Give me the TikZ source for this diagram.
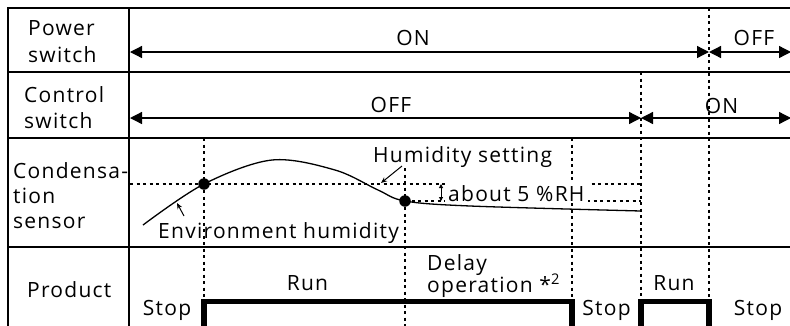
\documentclass[tikz,border=0pt]{standalone}
\usepackage{fontspec}
\setmainfont{Open Sans}[LetterSpace=6]
\usetikzlibrary{arrows.meta}
\begin{document}
\begin{tikzpicture}[x=1pt,y=-1pt,
  frame/.style={line width=1.3pt},
  vdot/.style={line width=1.2pt, dash pattern=on 3pt off 3.5pt},
  dotbox/.style={line width=1.1pt, dash pattern=on 3pt off 3.5pt},
  txt/.style={inner sep=0pt, font=\fontsize{21}{26}\selectfont},
  lab/.style={txt, anchor=base west},
  ctr/.style={txt, anchor=base},
  span/.style={line width=1.3pt, {Triangle[length=12pt,width=12pt]}-{Triangle[length=12pt,width=12pt]}},
  pulse/.style={line width=5.5pt, line cap=butt, line join=miter},
  dotm/.style={circle, fill=black, inner sep=0pt, minimum size=11.5pt},
  pointer/.style={line width=1pt, -{Stealth[length=6pt,width=5pt]}},
  curve/.style={line width=1.3pt},
]
\useasboundingbox (0,0) rectangle (790,325);

% table frame
\draw[frame] (8,330) -- (8,8) -- (790,8);
\draw[frame] (129,8) -- (129,330);
\draw[frame] (8,72) -- (790,72);
\draw[frame] (8,138) -- (790,138);
\draw[frame] (8,247) -- (790,247);

% row labels
\node[lab] (l1a) at (28,35) {Power};
\node[lab] (l1b) at (28,62) {switch};
\node[lab] (l2a) at (24,102) {Control};
\node[lab] (l2b) at (24,128) {switch};
\node[lab] (l3a) at (13,178) {Condensa-};
\node[lab] (l3b) at (13,203) {tion};
\node[lab] (l3c) at (13,228) {sensor};
\node[lab] (l4a) at (27,297) {Product};

% vertical dotted time marks
\coordinate (t1a) at (204,138); \coordinate (t1b) at (204,301);
\coordinate (t2a) at (405,168); \coordinate (t2b) at (405,330);
\coordinate (t3a) at (572,138); \coordinate (t3b) at (572,301);
\coordinate (t4a) at (641,72);  \coordinate (t4b) at (641,301);
\coordinate (t5a) at (709,8);   \coordinate (t5b) at (709,301);
\draw[vdot] (t1a) -- (t1b);
\draw[vdot] (t2a) -- (t2b);
\draw[vdot] (t3a) -- (t3b);
\draw[vdot] (t4a) -- (t4b);
\draw[vdot] (t5a) -- (t5b);

% power switch
\coordinate (p0) at (130,52); \coordinate (p1) at (709,52); \coordinate (p2) at (791,52);
\draw[span] (p0) -- (p1);
\draw[span] (p1) -- (p2);
\node[ctr] (pon) at (413,45) {ON};
\node[ctr] (poff) at (754,45) {OFF};

% control switch
\coordinate (c0) at (130,118); \coordinate (c1) at (641,118); \coordinate (c2) at (791,118);
\draw[span] (c0) -- (c1);
\draw[span] (c1) -- (c2);
\node[ctr] (coff) at (391,112) {OFF};
\node[ctr] (con) at (721.5,113) {ON};

% humidity setting level and 5 %RH band
\coordinate (h0) at (130,184); \coordinate (h1) at (641,184);
\coordinate (h2) at (405,201); \coordinate (h3) at (641,201);
\draw[dotbox] (h0) -- (h1);
\draw[dotbox] (h2) -- (h3);
\node[lab, fill=white, inner xsep=3pt, text height=18.5pt, text depth=2pt] (rh) at (445,201) {about 5 \%RH};
\coordinate (r0) at (441,184); \coordinate (r1) at (441,201);
\draw[line width=1pt, {Triangle[length=4pt,width=4pt]}-{Triangle[length=4pt,width=4pt]}] (r0) -- (r1);

% environment humidity curve
\draw[curve] plot[smooth, tension=0.55] coordinates {(143,225) (204,184) (272,160) (335,170) (378,190) (405,201) (470,206) (641,211)};
\node[dotm] (d1) at (204,184) {};
\node[dotm] (d2) at (405,201) {};

\node[lab] (env) at (158,238) {Environment humidity};
\coordinate (ea) at (184,216); \coordinate (eb) at (177,203);
\draw[pointer] (ea) -- (eb);

\node[lab] (hset) at (373,162) {Humidity setting};
\coordinate (ha) at (402,166); \coordinate (hb) at (381,183);
\draw[pointer] (ha) -- (hb);

% product
\draw[pulse] (204,330) -- (204,301.5) -- (572,301.5) -- (572,330);
\draw[pulse] (641,330) -- (641,301.5) -- (709,301.5) -- (709,330);
\node[ctr] (s1) at (167,315) {Stop};
\node[ctr] (u1) at (307.5,290) {Run};
\node[lab] (dl1) at (427,270) {Delay};
\node[lab] (dl2) at (427,292) {operation *\textsuperscript{2}};
\node[ctr] (s2) at (606.5,315) {Stop};
\node[ctr] (u2) at (674,290) {Run};
\node[ctr] (s3) at (758,315) {Stop};
\end{tikzpicture}
\end{document}
